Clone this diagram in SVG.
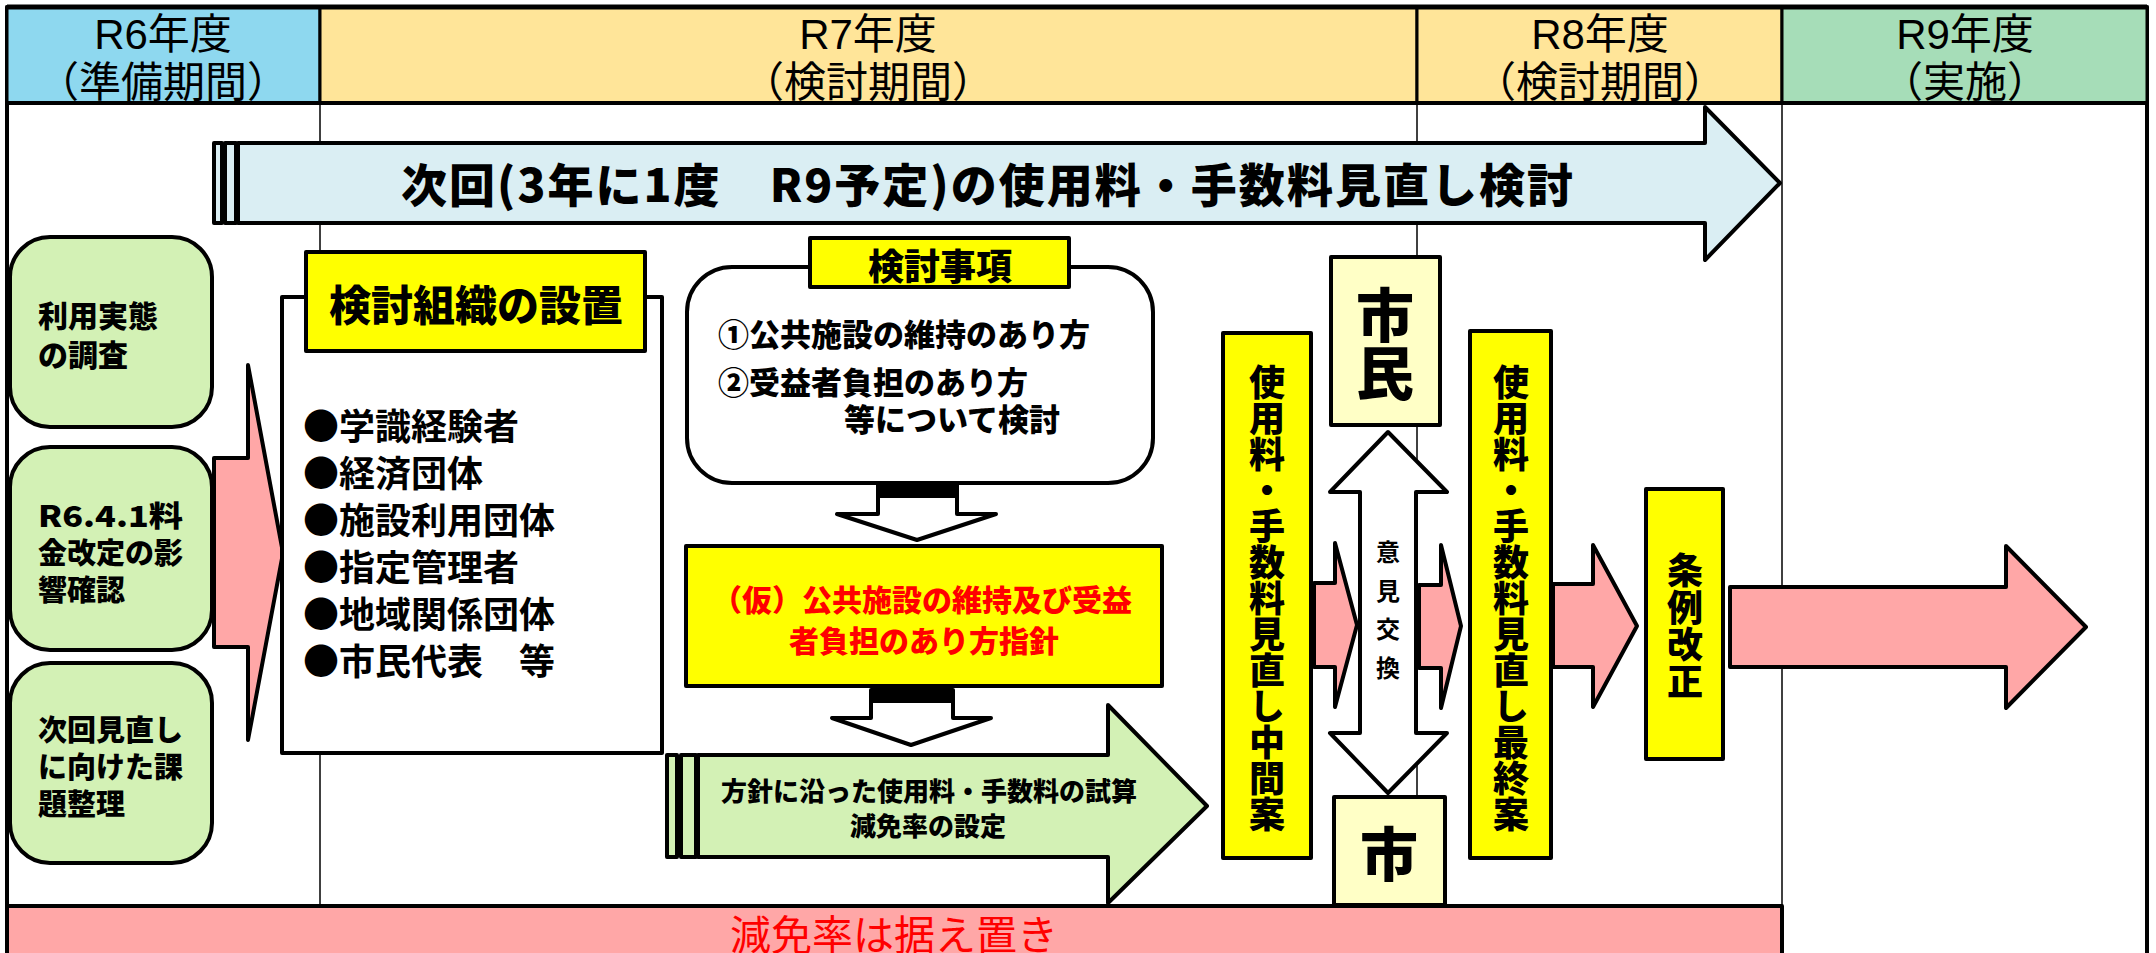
<svg xmlns="http://www.w3.org/2000/svg" width="2156" height="953" viewBox="0 0 2156 953">
<style>
.ln{stroke:#000;stroke-width:4;stroke-linejoin:round}
.thin{stroke:#000;stroke-width:1.5;fill:none}
.hd{font-family:"Liberation Sans","Noto Sans CJK JP",sans-serif;font-size:42px;fill:#000;text-anchor:middle}
.hv{font-family:"Noto Sans CJK JP",sans-serif;font-weight:900;fill:#000}
.md{font-family:"Noto Sans CJK JP",sans-serif;font-weight:700;fill:#000}
.mid{text-anchor:middle}
.vt{writing-mode:vertical-rl;text-orientation:upright}
.grn{fill:#D3F1B5}
.pnk{fill:#FFA7A7}
.yel{fill:#FFFF00}
.pale{fill:#FFFFC6}
.wht{fill:#FFFFFF}
</style>
<rect x="0" y="0" width="2156" height="953" fill="#FFFFFF"/>

<g id="frame">
  <rect x="7" y="7" width="2140" height="960" fill="none" class="ln"/>
  <line x1="320" y1="103" x2="320" y2="906" class="thin"/>
  <line x1="1417" y1="103" x2="1417" y2="906" class="thin"/>
  <line x1="1782" y1="103" x2="1782" y2="906" class="thin"/>
</g>

<g id="header">
  <rect x="7" y="7" width="313" height="96" fill="#8ED8EF" stroke="#000" stroke-width="3"/>
  <rect x="320" y="7" width="1097" height="96" fill="#FFE599" stroke="#000" stroke-width="3"/>
  <rect x="1417" y="7" width="365" height="96" fill="#FFE599" stroke="#000" stroke-width="3"/>
  <rect x="1782" y="7" width="365" height="96" fill="#A6DDB8" stroke="#000" stroke-width="3"/>
  <line x1="7" y1="103" x2="2147" y2="103" stroke="#000" stroke-width="4"/>
  <line x1="7" y1="7" x2="2147" y2="7" stroke="#000" stroke-width="5"/>
  <text class="hd"><tspan x="163" y="49">R6年度</tspan><tspan x="163" y="97">（準備期間）</tspan></text>
  <text class="hd"><tspan x="868" y="49">R7年度</tspan><tspan x="868" y="97">（検討期間）</tspan></text>
  <text class="hd"><tspan x="1600" y="49">R8年度</tspan><tspan x="1600" y="97">（検討期間）</tspan></text>
  <text class="hd"><tspan x="1965" y="49">R9年度</tspan><tspan x="1965" y="97">（実施）</tspan></text>
</g>

<g id="review-arrow">
  <rect x="214" y="143" width="8" height="80" fill="#DAEEF3" class="ln"/>
  <rect x="225" y="143" width="11" height="80" fill="#DAEEF3" class="ln"/>
  <polygon points="238,143 1705,143 1705,107 1780,183 1705,260 1705,223 238,223" fill="#DAEEF3" class="ln"/>
  <text class="hv mid" x="987" y="202" font-size="46" textLength="1172" lengthAdjust="spacing">次回(3年に1度　R9予定)の使用料・手数料見直し検討</text>
</g>

<g id="connectors">
  <polygon points="214,458 248,458 248,365 283,553 248,740 248,647 214,647" class="pnk ln"/>
  <path d="M878,485 H957 V514 H996 L917,540 L837,514 H878 Z" class="wht ln"/>
  <rect x="877" y="485" width="81" height="13" fill="#000"/>
  <path d="M871,690 H953 V718 H991 L911,745 L832,718 H871 Z" class="wht ln"/>
  <rect x="870" y="690" width="84" height="13" fill="#000"/>
  <polygon points="1314,583 1335,583 1335,543 1357,625 1335,707 1335,667 1314,667" class="pnk ln"/>
  <polygon points="1419,585 1441,585 1441,545 1461,626 1441,708 1441,668 1419,668" class="pnk ln"/>
  <polygon points="1553,584 1593,584 1593,545 1637,626 1593,707 1593,667 1553,667" class="pnk ln"/>
  <polygon points="1730,587 2006,587 2006,546 2086,627 2006,708 2006,667 1730,667" class="pnk ln" stroke-width="5"/>
</g>

<g id="survey">
  <rect x="10" y="237" width="202" height="190" rx="40" class="grn ln"/>
  <text class="hv" font-size="30"><tspan x="38" y="327">利用実態</tspan><tspan x="38" y="366">の調査</tspan></text>
</g>

<g id="impact">
  <rect x="10" y="447" width="202" height="203" rx="40" class="grn ln"/>
  <text class="hv" font-size="29"><tspan x="38" y="527" textLength="145" lengthAdjust="spacingAndGlyphs">R6.4.1料</tspan><tspan x="38" y="564">金改定の影</tspan><tspan x="38" y="601">響確認</tspan></text>
</g>

<g id="issues">
  <rect x="10" y="663" width="202" height="200" rx="40" class="grn ln"/>
  <text class="hv" font-size="29"><tspan x="38" y="741">次回見直し</tspan><tspan x="38" y="778">に向けた課</tspan><tspan x="38" y="815">題整理</tspan></text>
</g>

<g id="organization">
  <rect x="282" y="297" width="380" height="456" class="wht ln"/>
  <rect x="306" y="252" width="339" height="99" class="yel ln"/>
  <text class="hv mid" font-size="42" x="476" y="321">検討組織の設置</text>
  <text class="md" font-size="36" font-weight="500"><tspan x="303" y="440">●学識経験者</tspan><tspan x="303" y="487">●経済団体</tspan><tspan x="303" y="534">●施設利用団体</tspan><tspan x="303" y="581">●指定管理者</tspan><tspan x="303" y="628">●地域関係団体</tspan><tspan x="303" y="675">●市民代表　等</tspan></text>
</g>

<g id="topics">
  <rect x="687" y="267" width="466" height="216" rx="45" class="wht ln"/>
  <rect x="810" y="238" width="259" height="49" class="yel ln"/>
  <text class="hv mid" font-size="36" x="940" y="280">検討事項</text>
  <text class="hv" font-size="31"><tspan x="718" y="346">①公共施設の維持のあり方</tspan><tspan x="718" y="394">②受益者負担のあり方</tspan><tspan x="844" y="431">等について検討</tspan></text>
</g>

<g id="guideline">
  <rect x="686" y="546" width="476" height="140" class="yel ln"/>
  <text class="hv mid" font-size="30" style="fill:#FF0000"><tspan x="922" y="611">（仮）公共施設の維持及び受益</tspan><tspan x="924" y="652">者負担のあり方指針</tspan></text>
</g>

<g id="trial">
  <rect x="667" y="755" width="10" height="102" class="grn ln"/>
  <rect x="681" y="755" width="15" height="102" class="grn ln"/>
  <polygon points="698,755 1108,755 1108,705 1207,806 1108,903 1108,857 698,857" class="grn ln"/>
  <text class="hv mid" font-size="26"><tspan x="929" y="801">方針に沿った使用料・手数料の試算</tspan><tspan x="928" y="836">減免率の設定</tspan></text>
</g>

<g id="interim">
  <rect x="1223" y="333" width="88" height="525" class="yel ln"/>
  <text class="hv vt" font-size="36" x="1267" y="364">使用料・手数料見直し中間案</text>
</g>

<g id="citizens">
  <rect x="1331" y="257" width="109" height="168" class="pale ln"/>
  <text class="hv vt" font-size="58" x="1385" y="286">市民</text>
</g>

<g id="exchange">
  <polygon points="1388,432 1447,492 1416,492 1416,733 1447,733 1388,793 1330,733 1360,733 1360,492 1330,492" class="wht ln"/>
  <text class="md vt" font-size="24" x="1388" y="540" letter-spacing="14.5">意見交換</text>
</g>

<g id="city">
  <rect x="1334" y="797" width="111" height="108" class="pale ln"/>
  <text class="hv mid" font-size="58" x="1389" y="876">市</text>
</g>

<g id="final">
  <rect x="1470" y="331" width="81" height="527" class="yel ln"/>
  <text class="hv vt" font-size="36" x="1511" y="364">使用料・手数料見直し最終案</text>
</g>

<g id="ordinance">
  <rect x="1646" y="489" width="77" height="270" class="yel ln"/>
  <text class="hv vt" font-size="36" x="1685" y="552" letter-spacing="1">条例改正</text>
</g>

<g id="reduction">
  <rect x="7" y="906" width="1775" height="60" class="pnk ln"/>
  <text x="894" y="950" font-family="'Liberation Sans','Noto Sans CJK JP',sans-serif" font-size="41" fill="#FF0000" text-anchor="middle">減免率は据え置き</text>
</g>
</svg>
